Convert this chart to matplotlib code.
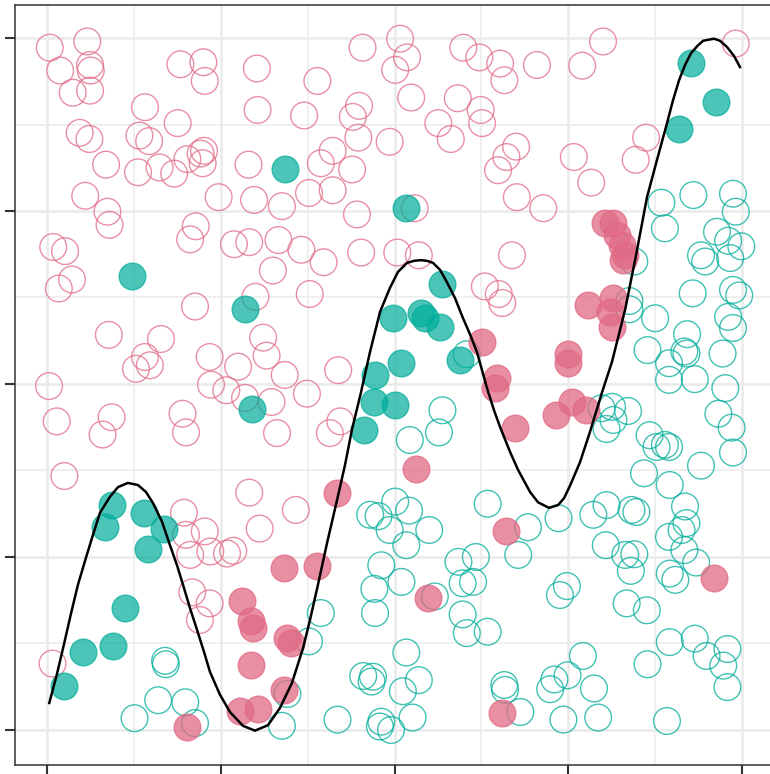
import numpy as np
import matplotlib.pyplot as plt

pink = "#E16A86"
teal = "#00AD9A"

# decision boundary, read along x
curve_x = [0.0033, 0.0144, 0.0245, 0.0345, 0.0446, 0.0561, 0.0662, 0.0763, 0.0906, 0.1022,
           0.1165, 0.1309, 0.1424, 0.1525, 0.1655, 0.1770, 0.1871, 0.1957, 0.2058, 0.2158,
           0.2259, 0.2345, 0.2489, 0.2633, 0.2820, 0.2993, 0.3180, 0.3353, 0.3525, 0.3683,
           0.3784, 0.3899, 0.4029, 0.4173, 0.4288, 0.4388, 0.4518, 0.4647, 0.4791, 0.4935,
           0.5050, 0.5180, 0.5281, 0.5381, 0.5468, 0.5554, 0.5655, 0.5755, 0.5871, 0.5986,
           0.6086, 0.6187, 0.6259, 0.6331, 0.6432, 0.6518, 0.6662, 0.6777, 0.6950, 0.7065,
           0.7223, 0.7353, 0.7439, 0.7525, 0.7669, 0.7813, 0.7986, 0.8129, 0.8317, 0.8475,
           0.8633, 0.8777, 0.8921, 0.9007, 0.9094, 0.9180, 0.9266, 0.9353, 0.9439, 0.9597,
           0.9683, 0.9784, 0.9885, 0.9971]
curve_y = [0.039, 0.081, 0.124, 0.168, 0.210, 0.249, 0.282, 0.314, 0.337, 0.351,
           0.357, 0.354, 0.344, 0.328, 0.301, 0.267, 0.238, 0.210, 0.176, 0.145,
           0.113, 0.084, 0.051, 0.026, 0.006, -0.001, 0.007, 0.032, 0.068, 0.118,
           0.159, 0.210, 0.270, 0.332, 0.383, 0.434, 0.488, 0.546, 0.604, 0.639,
           0.662, 0.675, 0.678, 0.679, 0.678, 0.675, 0.665, 0.647, 0.624, 0.595,
           0.572, 0.546, 0.520, 0.494, 0.462, 0.438, 0.402, 0.376, 0.344, 0.329,
           0.321, 0.325, 0.335, 0.353, 0.387, 0.431, 0.488, 0.532, 0.607, 0.686,
           0.770, 0.824, 0.877, 0.910, 0.939, 0.961, 0.978, 0.988, 0.996, 0.999,
           0.996, 0.987, 0.974, 0.958]

# class A, correctly placed (open pink)
a_open = np.array([
    (0.004, 0.986), (0.058, 0.995), (0.019, 0.953), (0.062, 0.961), (0.063, 0.953),
    (0.037, 0.921), (0.062, 0.924), (0.192, 0.962), (0.225, 0.965), (0.227, 0.938),
    (0.302, 0.956), (0.303, 0.896), (0.141, 0.900), (0.188, 0.877), (0.047, 0.863),
    (0.061, 0.854), (0.133, 0.859), (0.147, 0.851), (0.085, 0.817), (0.131, 0.806),
    (0.162, 0.813), (0.183, 0.804), (0.202, 0.825), (0.221, 0.833), (0.226, 0.837),
    (0.224, 0.819), (0.290, 0.817), (0.055, 0.772), (0.247, 0.770), (0.298, 0.766),
    (0.087, 0.749), (0.090, 0.730), (0.009, 0.698), (0.026, 0.692), (0.036, 0.651),
    (0.017, 0.638), (0.089, 0.571), (0.164, 0.565), (0.141, 0.539), (0.128, 0.522),
    (0.148, 0.527), (0.214, 0.728), (0.206, 0.709), (0.269, 0.702), (0.291, 0.705),
    (0.325, 0.664), (0.213, 0.612), (0.300, 0.626), (0.234, 0.539), (0.275, 0.525),
    (0.311, 0.567), (0.316, 0.541), (0.236, 0.499), (0.258, 0.491), (0.285, 0.480),
    (0.003, 0.497), (0.454, 0.986), (0.508, 0.999), (0.518, 0.972), (0.501, 0.954),
    (0.389, 0.938), (0.524, 0.914), (0.599, 0.986), (0.622, 0.972), (0.652, 0.963),
    (0.658, 0.939), (0.591, 0.913), (0.624, 0.896), (0.626, 0.877), (0.563, 0.877),
    (0.581, 0.854), (0.370, 0.888), (0.449, 0.902), (0.440, 0.886), (0.448, 0.856),
    (0.493, 0.850), (0.411, 0.837), (0.394, 0.819), (0.439, 0.810), (0.377, 0.776),
    (0.411, 0.780), (0.338, 0.757), (0.649, 0.809), (0.661, 0.828), (0.675, 0.843),
    (0.676, 0.770), (0.529, 0.754), (0.446, 0.745), (0.333, 0.708), (0.366, 0.694),
    (0.398, 0.676), (0.378, 0.630), (0.452, 0.690), (0.504, 0.690), (0.535, 0.686),
    (0.669, 0.686), (0.630, 0.641), (0.650, 0.630), (0.655, 0.617), (0.342, 0.513),
    (0.419, 0.520), (0.374, 0.486), (0.705, 0.961), (0.770, 0.960), (0.800, 0.995),
    (0.991, 0.992), (0.758, 0.828), (0.783, 0.791), (0.862, 0.856), (0.847, 0.824),
    (0.714, 0.754), (0.014, 0.446), (0.093, 0.452), (0.080, 0.427), (0.025, 0.367),
    (0.195, 0.457), (0.200, 0.430), (0.291, 0.343), (0.306, 0.291), (0.197, 0.314),
    (0.200, 0.282), (0.227, 0.287), (0.206, 0.253), (0.235, 0.258), (0.259, 0.255),
    (0.268, 0.259), (0.209, 0.199), (0.323, 0.474), (0.331, 0.429), (0.407, 0.429),
    (0.422, 0.446), (0.358, 0.318), (0.008, 0.096), (0.234, 0.183), (0.220, 0.159),
])

# class B, correctly placed (open teal)
b_open = np.array([
    (0.884, 0.762), (0.930, 0.773), (0.987, 0.775), (0.991, 0.749), (0.889, 0.725),
    (0.964, 0.720), (0.980, 0.707), (0.999, 0.699), (0.941, 0.686), (0.947, 0.677),
    (0.983, 0.682), (0.845, 0.677), (0.929, 0.631), (0.987, 0.636), (0.996, 0.628),
    (0.838, 0.620), (0.838, 0.608), (0.875, 0.595), (0.980, 0.597), (0.987, 0.581),
    (0.921, 0.572), (0.920, 0.544), (0.917, 0.547), (0.864, 0.549), (0.895, 0.530),
    (0.972, 0.544), (0.895, 0.506), (0.932, 0.507), (0.976, 0.494), (0.604, 0.543),
    (0.569, 0.462), (0.564, 0.430), (0.522, 0.419), (0.465, 0.311), (0.477, 0.309),
    (0.501, 0.330), (0.521, 0.317), (0.493, 0.289), (0.550, 0.289), (0.517, 0.267),
    (0.634, 0.327), (0.592, 0.243), (0.617, 0.250), (0.481, 0.238), (0.510, 0.214),
    (0.471, 0.204), (0.613, 0.214), (0.598, 0.212), (0.798, 0.465), (0.813, 0.467),
    (0.836, 0.461), (0.815, 0.448), (0.805, 0.435), (0.867, 0.426), (0.877, 0.409),
    (0.889, 0.412), (0.895, 0.409), (0.966, 0.457), (0.985, 0.437), (0.987, 0.401),
    (0.941, 0.382), (0.859, 0.371), (0.896, 0.354), (0.918, 0.323), (0.920, 0.299),
    (0.913, 0.289), (0.895, 0.279), (0.917, 0.260), (0.934, 0.242), (0.896, 0.226),
    (0.904, 0.217), (0.736, 0.306), (0.692, 0.293), (0.678, 0.253), (0.786, 0.311),
    (0.805, 0.325), (0.841, 0.318), (0.848, 0.315), (0.804, 0.267), (0.832, 0.253),
    (0.845, 0.254), (0.840, 0.230), (0.748, 0.208), (0.738, 0.195), (0.834, 0.183),
    (0.394, 0.169), (0.377, 0.128), (0.346, 0.052), (0.338, 0.006), (0.472, 0.169),
    (0.558, 0.193), (0.598, 0.167), (0.604, 0.140), (0.634, 0.142), (0.517, 0.112),
    (0.455, 0.078), (0.469, 0.077), (0.467, 0.070), (0.512, 0.056), (0.535, 0.072),
    (0.418, 0.015), (0.481, 0.012), (0.479, 0.005), (0.495, 0.000), (0.526, 0.018),
    (0.658, 0.065), (0.659, 0.058), (0.681, 0.026), (0.170, 0.100), (0.171, 0.095),
    (0.160, 0.043), (0.199, 0.040), (0.213, 0.010), (0.126, 0.017), (0.863, 0.173),
    (0.896, 0.127), (0.932, 0.132), (0.949, 0.107), (0.979, 0.117), (0.973, 0.093),
    (0.979, 0.062), (0.864, 0.095), (0.771, 0.107), (0.749, 0.079), (0.730, 0.073),
    (0.724, 0.059), (0.787, 0.060), (0.743, 0.015), (0.793, 0.018), (0.892, 0.013),
])

# class A on the wrong side (filled pink)
a_miss = np.array([
    (0.803, 0.732), (0.815, 0.732), (0.820, 0.715), (0.827, 0.701), (0.832, 0.686),
    (0.829, 0.679), (0.779, 0.614), (0.815, 0.624), (0.810, 0.604), (0.813, 0.583),
    (0.750, 0.544), (0.750, 0.530), (0.755, 0.474), (0.733, 0.455), (0.776, 0.462),
    (0.673, 0.436), (0.626, 0.561), (0.647, 0.509), (0.645, 0.494), (0.531, 0.377),
    (0.417, 0.342), (0.341, 0.234), (0.388, 0.237), (0.661, 0.288), (0.960, 0.219),
    (0.548, 0.191), (0.280, 0.187), (0.293, 0.157), (0.297, 0.147), (0.294, 0.094),
    (0.278, 0.027), (0.303, 0.031), (0.202, 0.005), (0.345, 0.133), (0.351, 0.125),
    (0.341, 0.058), (0.655, 0.025),
])

# class B on the wrong side (filled teal)
b_miss = np.array([
    (0.343, 0.811), (0.516, 0.755), (0.123, 0.656), (0.285, 0.609), (0.569, 0.645),
    (0.498, 0.595), (0.538, 0.602), (0.544, 0.596), (0.565, 0.583), (0.509, 0.531),
    (0.594, 0.535), (0.472, 0.513), (0.470, 0.474), (0.501, 0.470), (0.456, 0.433),
    (0.295, 0.464), (0.094, 0.325), (0.084, 0.293), (0.139, 0.314), (0.145, 0.261),
    (0.169, 0.291), (0.112, 0.177), (0.052, 0.112), (0.095, 0.121), (0.024, 0.063),
    (0.927, 0.964), (0.963, 0.908), (0.910, 0.868),
])

fig = plt.figure(figsize=(7.7, 7.74), dpi=100)
ax = fig.add_axes([15 / 770, 9 / 774, 759 / 770, 760 / 774])

ax.scatter(a_open[:, 0], a_open[:, 1], s=370, facecolors="none",
           edgecolors=pink, linewidths=1.0, alpha=0.75, zorder=2)
ax.scatter(b_open[:, 0], b_open[:, 1], s=370, facecolors="none",
           edgecolors=teal, linewidths=1.0, alpha=0.75, zorder=2)
ax.scatter(a_miss[:, 0], a_miss[:, 1], s=370, color=pink,
           linewidths=1.0, alpha=0.75, zorder=3)
ax.scatter(b_miss[:, 0], b_miss[:, 1], s=370, color=teal,
           linewidths=1.0, alpha=0.7, zorder=3)
ax.plot(curve_x, curve_y, color="black", linewidth=1.8,
        solid_joinstyle="round", zorder=4)

ax.set_xlim(-0.046, 1.046)
ax.set_ylim(-0.0506, 1.0477)

ticks = [0, 0.25, 0.5, 0.75, 1]
ax.set_xticks(ticks)
ax.set_yticks(ticks)
ax.set_xticks([0.125, 0.375, 0.625, 0.875], minor=True)
ax.set_yticks([0.125, 0.375, 0.625, 0.875], minor=True)
ax.set_xticklabels([])
ax.set_yticklabels([])
ax.tick_params(which="major", length=7, width=1.5, color="#333333")
ax.tick_params(which="minor", length=0)

ax.grid(True, which="major", color="#EBEBEB", linewidth=1.9, zorder=0)
ax.grid(True, which="minor", color="#EBEBEB", linewidth=1.1, zorder=0)
ax.set_axisbelow(True)
for sp in ax.spines.values():
    sp.set_color("#333333")
    sp.set_linewidth(1.1)

fig.savefig("out.png", dpi=100)
